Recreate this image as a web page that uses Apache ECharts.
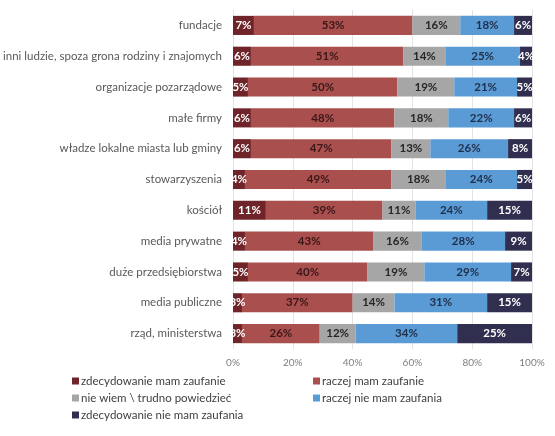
<!DOCTYPE html>
<html>
<head>
<meta charset="utf-8">
<script src="https://cdn.jsdelivr.net/npm/echarts@6/dist/echarts.min.js"></script>
<style>
  html, body { margin: 0; padding: 0; background: #fff; }
  #main { width: 555px; height: 436px; }
</style>
</head>
<body>
<div id="main"></div>
<script>
// kategorie (od góry)
var categories = ['fundacje', 'inni ludzie, spoza grona rodziny i znajomych', 'organizacje pozarządowe',
  'małe firmy', 'władze lokalne miasta lub gminy', 'stowarzyszenia', 'kościół', 'media prywatne',
  'duże przedsiębiorstwa', 'media publiczne', 'rząd, ministerstwa'];

var seriesNames = ['zdecydowanie mam zaufanie', 'raczej mam zaufanie', 'nie wiem \\ trudno powiedzieć',
  'raczej nie mam zaufania', 'zdecydowanie nie mam zaufania'];

var zdecydowanieMam = [7, 6, 5, 6, 6, 4, 11, 4, 5, 3, 3];
var raczejMam = [53, 51, 50, 48, 47, 49, 39, 43, 40, 37, 26];
var nieWiem = [16, 14, 19, 18, 13, 18, 11, 16, 19, 14, 12];
var raczejNieMam = [18, 25, 21, 22, 26, 24, 24, 28, 29, 31, 34];
var zdecydowanieNieMam = [6, 4, 5, 6, 8, 5, 15, 9, 7, 15, 25];

var xTicks = [0, 20, 40, 60, 80, 100];

var colors = ['#6f2429', '#a9504e', '#a6a6a6', '#5b9bd5', '#312f50'];
var labelColors = ['#ffffff', '#3b1718', '#262626', '#1f2f4a', '#ffffff'];
var values = [zdecydowanieMam, raczejMam, nieWiem, raczejNieMam, zdecydowanieNieMam];

var series = values.map(function (arr, i) {
  return {
    name: seriesNames[i],
    type: 'bar',
    stack: 'total',
    barWidth: '62%',
    data: arr,
    itemStyle: { color: colors[i] },
    label: {
      show: true,
      position: 'inside',
      formatter: '{c}%',
      color: labelColors[i],
      fontSize: 11.5,
      fontWeight: 'bold',
      fontFamily: 'Lato'
    }
  };
});

var legendText = { color: '#404040', fontSize: 11.5, padding: [0, 0, 0, -3] };

var myChart = echarts.init(document.getElementById('main'));
myChart.setOption({
  animation: false,
  textStyle: { fontFamily: 'Lato' },
  grid: { left: 233, right: 23, top: 10, bottom: 87, outerBoundsMode: 'none', containLabel: false },
  xAxis: {
    type: 'value',
    min: 0,
    max: 100,
    interval: 20,
    axisLine: { show: false },
    axisTick: { show: false },
    splitLine: { lineStyle: { color: '#e3e3e3' } },
    axisLabel: {
      color: '#7f7f7f',
      fontSize: 10,
      margin: 9,
      formatter: function (v) { return xTicks.indexOf(v) >= 0 ? v + '%' : ''; }
    }
  },
  yAxis: {
    type: 'category',
    inverse: true,
    data: categories,
    axisLine: { show: false },
    axisTick: { show: false },
    axisLabel: { color: '#595959', fontSize: 11.5, margin: 11 }
  },
  legend: [{
    left: 67,
    top: 370,
    orient: 'vertical',
    itemWidth: 7,
    itemHeight: 7,
    itemGap: 5,
    icon: 'rect',
    data: [seriesNames[0], seriesNames[2], seriesNames[4]],
    textStyle: legendText
  }, {
    left: 308,
    top: 370,
    orient: 'vertical',
    itemWidth: 7,
    itemHeight: 7,
    itemGap: 5,
    icon: 'rect',
    data: [seriesNames[1], seriesNames[3]],
    textStyle: legendText
  }],
  series: series
});
</script>
</body>
</html>
